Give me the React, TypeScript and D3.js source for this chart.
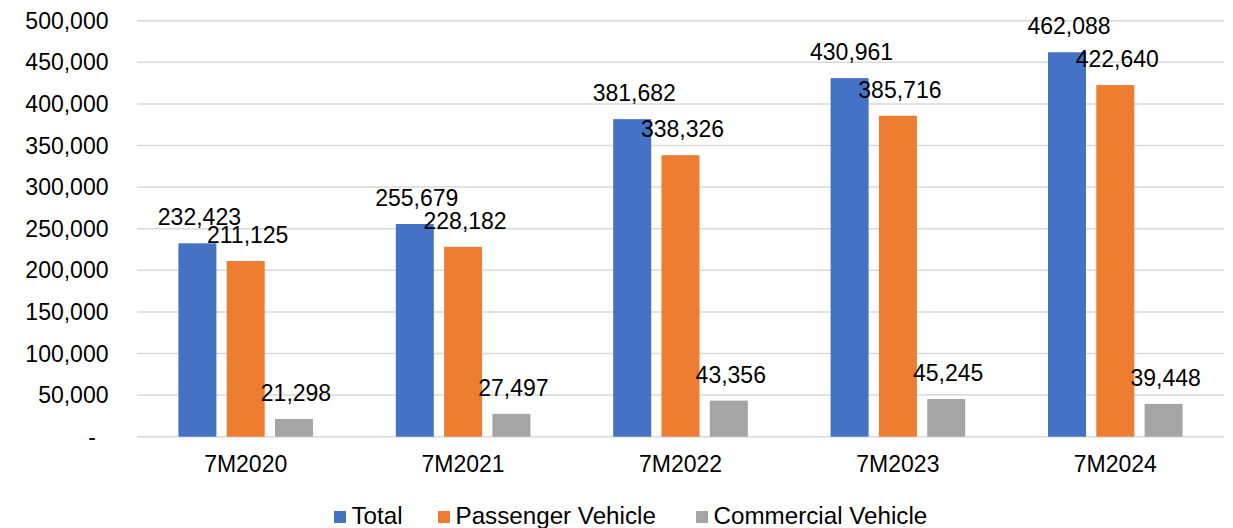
import React from "react";
import * as d3 from "d3";

const categories = ["7M2020", "7M2021", "7M2022", "7M2023", "7M2024"];
const seriesNames = ["Total", "Passenger Vehicle", "Commercial Vehicle"];
const totalValues = [232423, 255679, 381682, 430961, 462088];
const passengerValues = [211125, 228182, 338326, 385716, 422640];
const commercialValues = [21298, 27497, 43356, 45245, 39448];
const yTicks = [0, 50000, 100000, 150000, 200000, 250000, 300000, 350000, 400000, 450000, 500000];
const colors = ["#4472C4", "#ED7D31", "#A5A5A5"];

const W = 1233;
const H = 528;
const FONT = "'Liberation Sans', Arial, sans-serif";

export default function App() {
  const seriesValues = [totalValues, passengerValues, commercialValues];
  const x = d3.scaleBand<string>().domain(categories).range([137, 1224]).paddingInner(0).paddingOuter(0);
  const inner = d3.scaleBand<string>().domain(seriesNames).range([-67.3, 67.3]).paddingInner(0.2133).paddingOuter(0);
  const y = d3.scaleLinear().domain([0, 500000]).range([436.7, 20.7]);
  const fmt = d3.format(",");
  const legendX = [334, 438, 696];

  return (
    <svg width={W} height={H} style={{ position: "absolute", left: 0, top: 0, background: "#fff" }} fontFamily={FONT}>
      {yTicks.map((t) => (
        <g key={t}>
          <line x1={137} x2={1224} y1={y(t)} y2={y(t)} stroke="#D9D9D9" strokeWidth={1.5} />
          <text x={t === 0 ? 96 : 108.5} y={y(t)} dy="0.35em" textAnchor="end" fontSize={23} fill="#000">
            {t === 0 ? "-" : fmt(t)}
          </text>
        </g>
      ))}
      {categories.map((c, i) => {
        const cx = (x(c) as number) + x.bandwidth() / 2;
        return (
          <g key={c}>
            {seriesNames.map((s, j) => {
              const v = seriesValues[j][i];
              const bx = cx + (inner(s) as number);
              return (
                <g key={s}>
                  <rect x={bx} y={y(v)} width={inner.bandwidth()} height={y(0) - y(v)} fill={colors[j]} />
                  <text x={bx + inner.bandwidth() / 2 + 2} y={y(v) - 18} textAnchor="middle" fontSize={23} fill="#000">
                    {fmt(v)}
                  </text>
                </g>
              );
            })}
            <text x={cx} y={471.5} textAnchor="middle" fontSize={23} fill="#000">
              {c}
            </text>
          </g>
        );
      })}
      {seriesNames.map((s, j) => (
        <g key={s}>
          <rect x={legendX[j]} y={511} width={12} height={12} fill={colors[j]} />
          <text x={legendX[j] + 17.5} y={524} fontSize={24.2} fill="#000">
            {s}
          </text>
        </g>
      ))}
    </svg>
  );
}
